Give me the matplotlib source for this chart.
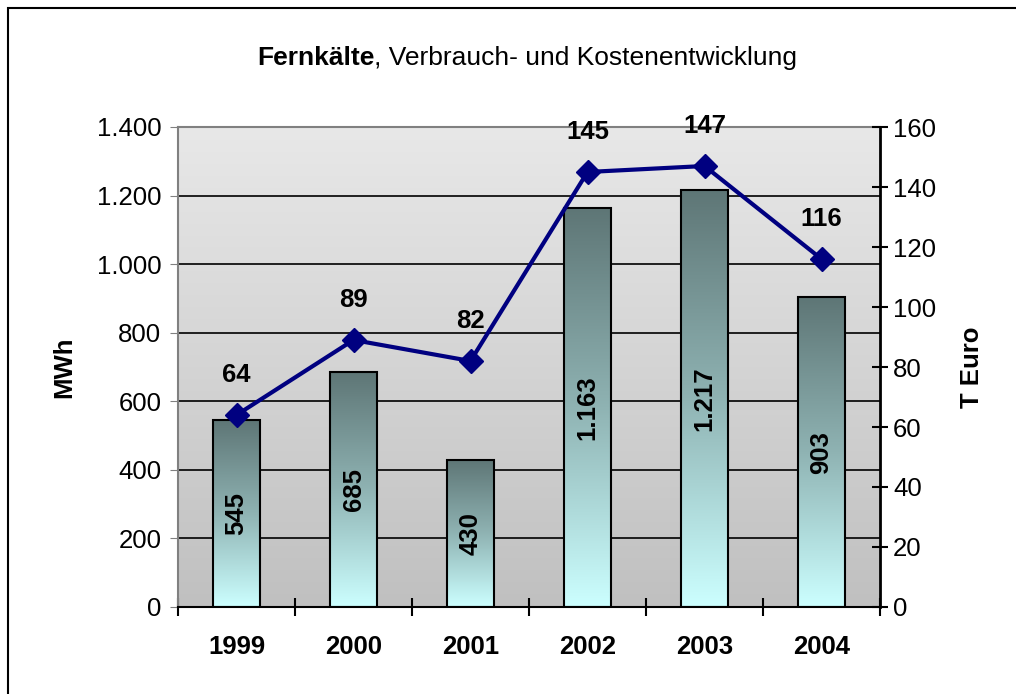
import numpy as np
import matplotlib
matplotlib.use("Agg")
import matplotlib.pyplot as plt
from matplotlib.colors import LinearSegmentedColormap
from matplotlib.patches import Rectangle
from matplotlib.ticker import FuncFormatter

plt.rcParams['font.family'] = ['Liberation Sans', 'DejaVu Sans']

# Daten
jahre = ['1999', '2000', '2001', '2002', '2003', '2004']
verbrauch_mwh = [545, 685, 430, 1163, 1217, 903]
kosten_teuro = [64, 89, 82, 145, 147, 116]


def de_format(v, pos=None):
    return f"{int(round(v)):,}".replace(",", ".")


fig = plt.figure(figsize=(10.16, 6.94), dpi=100)
ax = fig.add_axes([178 / 1016, 87 / 694, 702 / 1016, 480 / 694])

# äußerer Rahmen
fig.patches.append(Rectangle((8 / 1016, -0.05), 1.1, 1 - 8 / 694 + 0.05,
                             transform=fig.transFigure, fill=False,
                             edgecolor='black', lw=1.5, zorder=0))

x = np.arange(len(jahre))

# Hintergrund-Verlauf
bg = LinearSegmentedColormap.from_list('bg', ['#c0c0c0', '#e8e8e8'])
ax.imshow(np.linspace(0, 1, 256).reshape(-1, 1), cmap=bg, origin='lower',
          extent=[-0.5, len(jahre) - 0.5, 0, 1400], aspect='auto', zorder=0)

for y in range(200, 1400, 200):
    ax.axhline(y, color='black', lw=1.2, zorder=1)

# Balken mit Verlauf
bar_cmap = LinearSegmentedColormap.from_list('bar', ['#ccffff', '#8fb3b3', '#5e7676'])
breite = 0.4
ax.bar(x, verbrauch_mwh, width=breite, facecolor='none',
       edgecolor='black', lw=1.5, zorder=3)
for xi, h in zip(x, verbrauch_mwh):
    ax.imshow(np.linspace(0, 1, 256).reshape(-1, 1), cmap=bar_cmap, origin='lower',
              extent=[xi - breite / 2, xi + breite / 2, 0, h], aspect='auto', zorder=2)
    ax.text(xi, h / 2, de_format(h), rotation=90, ha='center', va='center',
            fontsize=18.5, fontweight='bold', zorder=4)

ax.set_xlim(-0.5, len(jahre) - 0.5)
ax.set_ylim(0, 1400)

ax.set_yticks(range(0, 1401, 200))
ax.yaxis.set_major_formatter(FuncFormatter(de_format))
ax.tick_params(axis='y', direction='out', length=6, color='#808080',
               labelsize=18.5, pad=6)
ax.set_xticks(np.arange(-0.5, len(jahre), 1.0))
ax.set_xticklabels([])
ax.set_xticks(x, minor=True)
ax.set_xticklabels(jahre, minor=True, fontsize=18.5, fontweight='bold')
ax.tick_params(axis='x', which='major', direction='inout', length=13,
               width=1.5, color='black')
ax.tick_params(axis='x', which='minor', length=0, pad=20)

ax.spines['left'].set_color('#808080')
ax.spines['left'].set_linewidth(1.5)
ax.spines['top'].set_color('#808080')
ax.spines['top'].set_linewidth(1.5)
ax.spines['bottom'].set_linewidth(1.5)
ax.spines['right'].set_visible(False)

ax.set_ylabel('MWh', fontsize=18.5, fontweight='bold', labelpad=15)

# Kostenlinie
ax2 = ax.twinx()
ax2.set_ylim(0, 160)
ax2.plot(x, kosten_teuro, color='#000080', lw=3, marker='D',
         markersize=12, zorder=5)
for xi, k in zip(x, kosten_teuro):
    ax2.annotate(str(k), (xi, k), xytext=(0, 29), textcoords='offset points',
                 ha='center', va='center', fontsize=18.5, fontweight='bold')
ax2.set_yticks(range(0, 161, 20))
ax2.tick_params(axis='y', direction='inout', length=11, width=1.5,
                labelsize=18.5, pad=4)
ax2.spines['right'].set_linewidth(2)
for s in ['left', 'top', 'bottom']:
    ax2.spines[s].set_visible(False)
ax2.set_ylabel('T Euro', fontsize=18.5, fontweight='bold', labelpad=17)

# Titel: fetter Teil + normaler Teil, gemeinsam zentriert
titel_y = 1 - 58 / 694
t1 = fig.text(0.5, titel_y, 'Fernkälte', fontsize=19, fontweight='bold',
              ha='right', va='center')
t2 = fig.text(0.5, titel_y, ', Verbrauch- und Kostenentwicklung', fontsize=19,
              ha='left', va='center')
fig.canvas.draw()
r = fig.canvas.get_renderer()
w1 = t1.get_window_extent(r).width / fig.bbox.width
w2 = t2.get_window_extent(r).width / fig.bbox.width
start = 527 / 1016 - (w1 + w2) / 2
t1.set_x(start + w1)
t2.set_x(start + w1)

fig.savefig('out.png', dpi=100)
